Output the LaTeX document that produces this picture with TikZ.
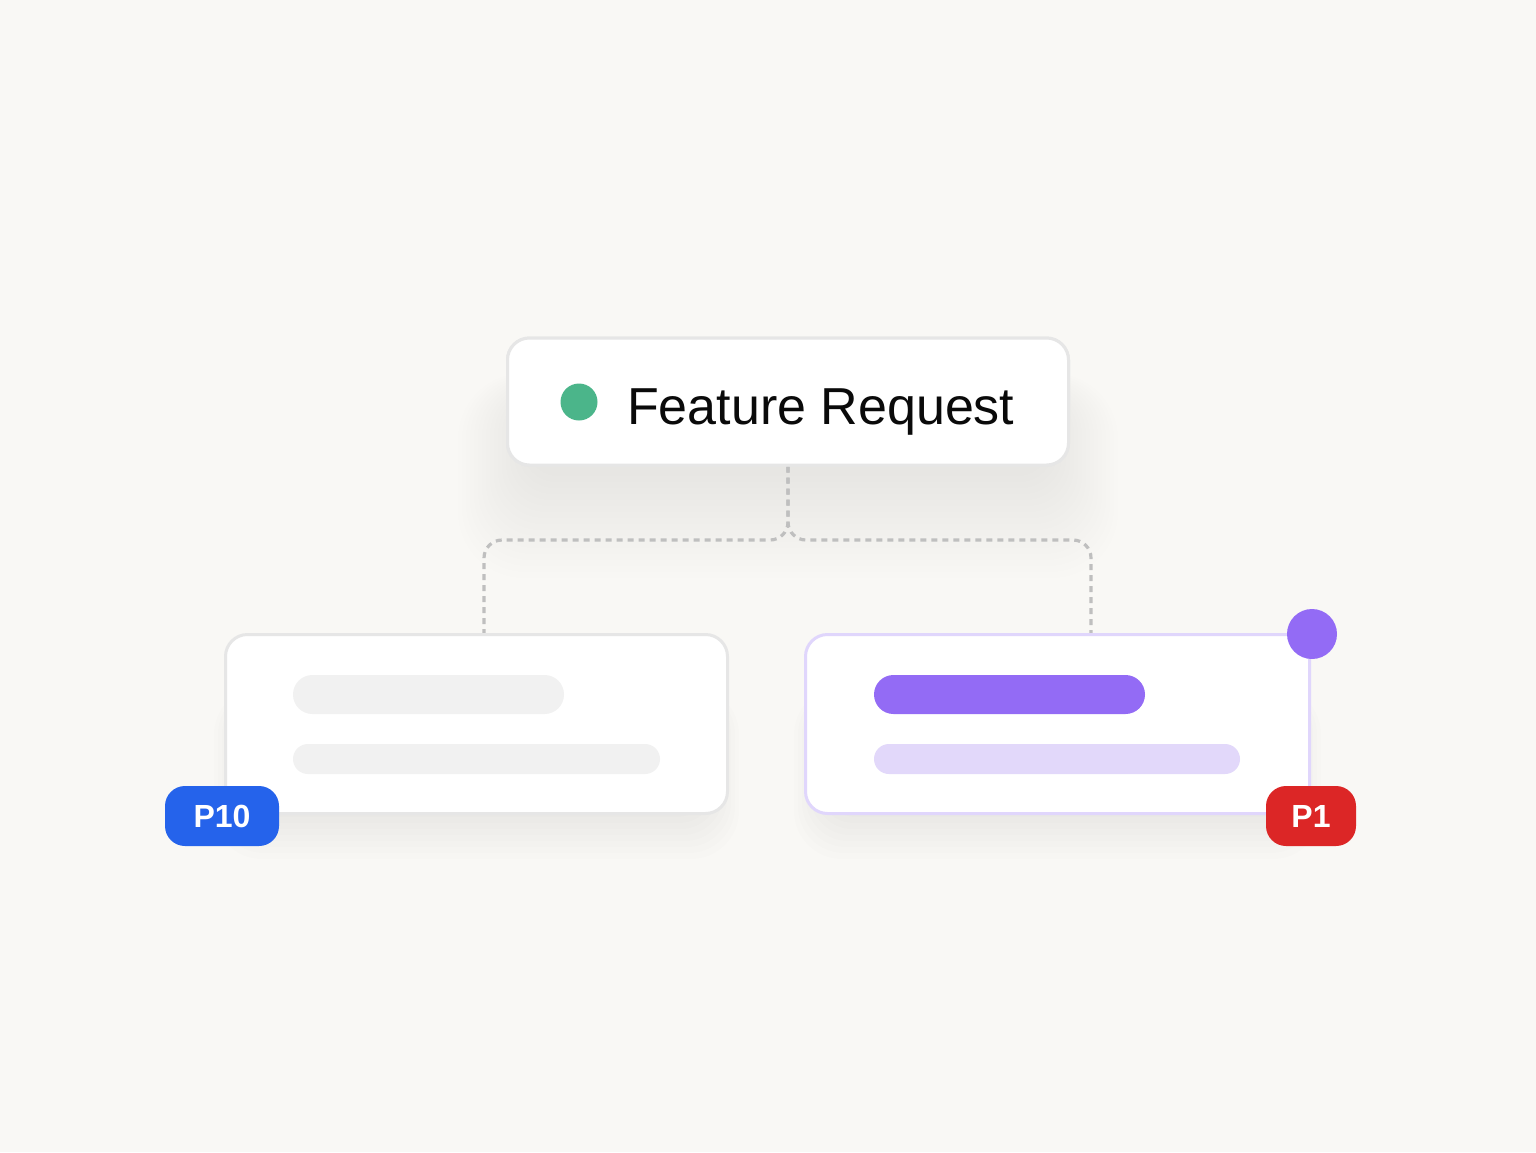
\documentclass[tikz,border=0pt]{standalone}
\usepackage{fontspec}
\setmainfont{Liberation Sans}
\definecolor{bg}{HTML}{F9F8F5}
\definecolor{cardborder}{HTML}{E6E6E6}
\definecolor{purpleborder}{HTML}{E0D6FC}
\definecolor{conncol}{HTML}{BFBFBF}
\definecolor{greendot}{HTML}{4BB58A}
\definecolor{purple}{HTML}{936BF5}
\definecolor{lightpurple}{HTML}{E2D8FA}
\definecolor{graybar}{HTML}{F1F1F1}
\definecolor{bluebadge}{HTML}{2563EB}
\definecolor{redbadge}{HTML}{DC2626}
\definecolor{ink}{HTML}{0A0A0A}
\tikzset{
  card/.style={draw=cardborder, line width=3pt, fill=white, rounded corners=22pt, inner sep=0pt},
  conn/.style={draw=conncol, line width=3.2pt, dash pattern=on 6pt off 5pt, rounded corners=18pt},
  badge/.style={fill=#1, rounded corners=20pt, inner sep=0pt, minimum height=60pt, text=white, font=\bfseries\fontsize{32}{36}\selectfont},
  bar/.style={fill=#1},
  dotnode/.style={circle, fill=#1, inner sep=0pt}
}
\newcommand{\softshadow}[6]{% x1 y1 x2 y2 n opacity
  \foreach \i in {1,...,#5}{
    \fill[black, opacity=#6, rounded corners={30+2*\i}] ({#1-\i*4},{#2-\i*1.5}) rectangle ({#3+\i*4},{#4+\i*6});
  }
}
\begin{document}
\begin{tikzpicture}[x=1pt,y=-1pt]
\fill[bg] (0,0) rectangle (1536,1152);
\useasboundingbox (0,0) rectangle (1536,1152);
% shadows
\softshadow{530}{400}{1046}{470}{18}{0.005}
\softshadow{250}{700}{703}{805}{9}{0.007}
\softshadow{830}{700}{1285}{805}{9}{0.007}
% connectors
\coordinate (lt) at (484,633);
\coordinate (rt) at (1091,633);
\node[card, minimum width=561pt, minimum height=127pt] (top) at (788,401.5) {};
\draw[conn] (top.south) -- (788,540) -- (lt |- 0,540) -- (lt);
\draw[conn] (top.south) -- (788,540) -- (rt |- 0,540) -- (rt);
\node[card, minimum width=561pt, minimum height=127pt] at (788,401.5) {};
\node[dotnode=greendot, minimum size=37pt] (gdot) at (579,402) {};
\node[anchor=base west, inner sep=0pt, text=ink, font=\fontsize{52}{60}\selectfont] (title) at (627,424) {Feature Request};
% lower cards
\node[card, minimum width=502pt, minimum height=179pt] (left) at (476.5,724) {};
\node[card, draw=purpleborder, minimum width=504pt, minimum height=179pt] (right) at (1057.5,724) {};
% bars
\fill[bar=graybar, rounded corners=19.5pt] (293,675) rectangle (564,714);
\fill[bar=graybar, rounded corners=15pt] (293,744) rectangle (660,774);
\fill[bar=purple, rounded corners=19.5pt] (874,675) rectangle (1145,714);
\fill[bar=lightpurple, rounded corners=15pt] (874,744) rectangle (1240,774);
% badges
\node[badge=bluebadge, minimum width=114pt] (p10) at (222,816) {P10};
\node[badge=redbadge, minimum width=90pt] (p1) at (1311,816) {P1};
\node[dotnode=purple, minimum size=50pt] (pdot) at (1312,634) {};
\end{tikzpicture}
\end{document}
